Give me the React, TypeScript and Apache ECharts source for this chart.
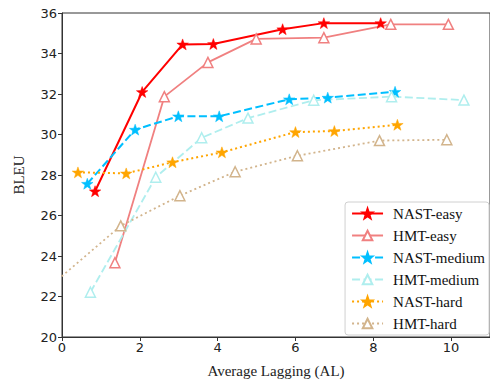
import React, { useEffect, useRef } from "react";
import * as echarts from "echarts";

const nastEasyX = [0.85, 2.06, 3.1, 3.89, 5.67, 6.73, 8.19];
const nastEasyY = [27.2, 32.1, 34.45, 34.47, 35.2, 35.5, 35.5];
const hmtEasyX = [1.36, 2.63, 3.75, 4.99, 6.73, 8.45, 9.93];
const hmtEasyY = [23.67, 31.87, 33.56, 34.72, 34.78, 35.44, 35.44];
const nastMedX = [0.65, 1.88, 2.99, 4.04, 5.84, 6.83, 8.56];
const nastMedY = [27.57, 30.24, 30.9, 30.9, 31.74, 31.82, 32.11];
const hmtMedX = [0.73, 2.41, 3.59, 4.78, 6.47, 8.47, 10.33];
const hmtMedY = [22.21, 27.89, 29.84, 30.81, 31.69, 31.87, 31.7];
const nastHardX = [0.41, 1.65, 2.84, 4.11, 6.0, 7.0, 8.62];
const nastHardY = [28.13, 28.08, 28.63, 29.12, 30.12, 30.17, 30.48];
const hmtHardX = [-0.4, 1.51, 3.03, 4.45, 6.05, 8.16, 9.89];
const hmtHardY = [22.35, 25.49, 26.98, 28.16, 28.95, 29.7, 29.74];

const STAR =
  "path://M0,-10 L2.35,-3.24 L9.51,-3.09 L3.8,1.24 L5.88,8.09 L0,4 L-5.88,8.09 L-3.8,1.24 L-9.51,-3.09 L-2.35,-3.24 Z";

function zip(xs: number[], ys: number[]) {
  return xs.map((x, i) => [x, ys[i]]);
}

function nast(name: string, xs: number[], ys: number[], color: string, type: any) {
  return {
    name,
    type: "line",
    data: zip(xs, ys),
    symbol: STAR,
    symbolSize: 11.5,
    symbolKeepAspect: true,
    lineStyle: { color, width: 2, type },
    itemStyle: { color, borderColor: color, borderWidth: 0.5 },
    clip: true,
  };
}

function hmt(name: string, xs: number[], ys: number[], color: string, type: any) {
  return {
    name,
    type: "line",
    data: zip(xs, ys),
    symbol: "triangle",
    symbolSize: 10,
    lineStyle: { color, width: 1.8, type },
    itemStyle: { color: "#ffffff", borderColor: color, borderWidth: 1.5 },
    clip: true,
  };
}

export default function App() {
  const ref = useRef<HTMLDivElement>(null);
  useEffect(() => {
    document.body.style.margin = "0";
    const chart = echarts.init(ref.current!, null, { renderer: "svg" });
    const tickFont = { fontFamily: "DejaVu Sans", fontSize: 13, color: "#222" };
    chart.setOption({
      animation: false,
      backgroundColor: "#ffffff",
      grid: {
        left: 62,
        top: 13,
        width: 434.5,
        height: 324,
        show: true,
        borderColor: "#333",
        borderWidth: 1,
      },
      xAxis: {
        type: "value",
        min: 0,
        max: 11,
        interval: 2,
        name: "Average Lagging (AL)",
        nameLocation: "middle",
        nameGap: 26,
        nameTextStyle: { fontFamily: "Liberation Serif", fontSize: 15, color: "#222" },
        axisLine: { lineStyle: { color: "#333", width: 1 } },
        axisTick: { show: true, length: 4, lineStyle: { color: "#333" } },
        axisLabel: { ...tickFont, margin: 4, showMaxLabel: false },
        splitLine: { show: false },
      },
      yAxis: {
        type: "value",
        min: 20,
        max: 36,
        interval: 2,
        name: "BLEU",
        nameLocation: "middle",
        nameGap: 36,
        nameTextStyle: { fontFamily: "Liberation Serif", fontSize: 15, color: "#222" },
        axisLine: { show: true, lineStyle: { color: "#333", width: 1 } },
        axisTick: { show: true, length: 4, lineStyle: { color: "#333" } },
        axisLabel: { ...tickFont, margin: 5 },
        splitLine: { show: false },
      },
      legend: {
        orient: "vertical",
        align: "left",
        right: 1,
        top: 202,
        itemWidth: 31,
        itemHeight: 12,
        itemGap: 7,
        padding: [4, 4, 4, 6],
        backgroundColor: "#ffffff",
        borderColor: "#d0d0d0",
        borderWidth: 1,
        borderRadius: 3,
        textStyle: {
          fontFamily: "Liberation Serif",
          fontSize: 15,
          lineHeight: 14,
          color: "#111",
          padding: [0, 0, 0, 5],
        },
      },
      series: [
        nast("NAST-easy", nastEasyX, nastEasyY, "#ff0000", "solid"),
        hmt("HMT-easy", hmtEasyX, hmtEasyY, "#f08080", "solid"),
        nast("NAST-medium", nastMedX, nastMedY, "#00bfff", [8, 3.5]),
        hmt("HMT-medium", hmtMedX, hmtMedY, "#afeeee", [8, 3.5]),
        nast("NAST-hard", nastHardX, nastHardY, "#ffa500", [2, 3]),
        hmt("HMT-hard", hmtHardX, hmtHardY, "#d2b48c", [2, 3]),
      ],
    });
    return () => chart.dispose();
  }, []);
  return (
    <div
      ref={ref}
      style={{ position: "fixed", left: 0, top: 0, width: 490, height: 383 }}
    />
  );
}
